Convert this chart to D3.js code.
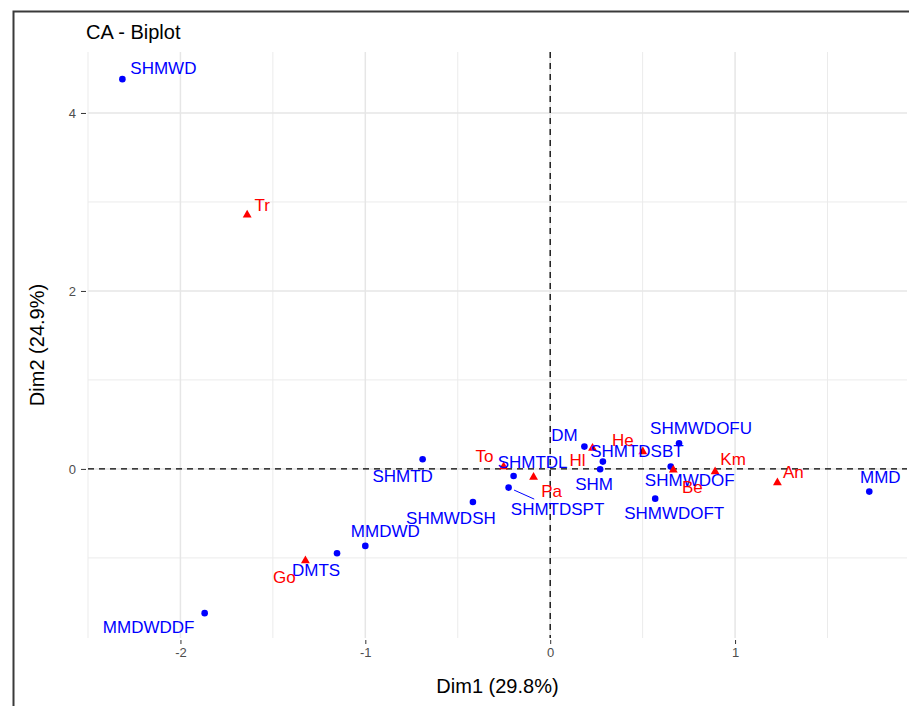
<!DOCTYPE html>
<html>
<head>
<meta charset="utf-8">
<script src="https://cdn.jsdelivr.net/npm/d3@7"></script>
<style>
  html, body { margin: 0; padding: 0; background: #fff; }
  svg { display: block; font-family: "Liberation Sans", Arial, sans-serif; }
</style>
</head>
<body>
<svg id="chart" width="909" height="706"></svg>
<script>
// Column profiles (blue points)
const colNames = ["SHMWD", "SHMTD", "SHMTDL", "SHMTDSPT", "SHMWDSH", "DM", "SHMTDSBT", "SHM",
                  "SHMWDOFU", "SHMWDOF", "SHMWDOFT", "MMD", "MMDWD", "DMTS", "MMDWDDF"];
const colDim1 = [-2.314, -0.690, -0.198, -0.225, -0.418, 0.185, 0.285, 0.270,
                 0.697, 0.652, 0.568, 1.726, -1.000, -1.153, -1.869];
const colDim2 = [4.380, 0.109, -0.079, -0.210, -0.371, 0.251, 0.082, -0.003,
                 0.289, 0.026, -0.334, -0.255, -0.865, -0.947, -1.621];

// Row profiles (red triangles)
const rowNames = ["Tr", "To", "Pa", "Hl", "He", "Be", "Km", "An", "Go"];
const rowDim1 = [-1.639, -0.252, -0.090, 0.229, 0.501, 0.666, 0.892, 1.229, -1.324];
const rowDim2 = [2.854, 0.026, -0.093, 0.233, 0.194, -0.011, -0.030, -0.154, -1.030];

// Axis ticks and titles
const xTicks = [-2, -1, 0, 1];
const yTicks = [0, 2, 4];
const xMinor = [-2.5, -1.5, -0.5, 0.5, 1.5];
const yMinor = [-1, 1, 3];
const chartTitle = "CA - Biplot";
const xTitle = "Dim1 (29.8%)";
const yTitle = "Dim2 (24.9%)";

// Repelled label placement (pixel offsets of the label centre from its point)
const labelOffset = {
  SHMWD: [41, -11], SHMTD: [-20, 17], SHMTDL: [19, -13], SHMTDSPT: [49, 22],
  SHMWDSH: [-22, 17], DM: [-20, -11], SHMTDSBT: [34, -10], SHM: [-6, 15],
  SHMWDOFU: [22, -15], SHMWDOF: [19, 14], SHMWDOFT: [19, 15], MMD: [11, -14],
  MMDWD: [20, -14], DMTS: [-21, 17], MMDWDDF: [-56, 14],
  Tr: [15, -9], To: [-19, -10], Pa: [18, 14], Hl: [-15, 12], He: [-20, -11],
  Be: [19, 18], Km: [18, -12], An: [16, -10], Go: [-21, 17]
};
const withSegment = new Set(["SHMTDSPT"]);

const svg = d3.select("#chart");
const panel = { left: 88, right: 907, top: 52, bottom: 638 };

const x = d3.scaleLinear().domain([-2.5, 1.93]).range([panel.left, panel.right]);
const y = d3.scaleLinear().domain([-1.9, 4.685]).range([panel.bottom, panel.top]);

// Outer frame
svg.append("path")
  .attr("d", `M13.5,706 V11.5 H909`)
  .attr("fill", "none").attr("stroke", "#3a3a3a").attr("stroke-width", 2);

// Title
svg.append("text").attr("x", 86).attr("y", 39)
  .attr("font-size", 20).attr("fill", "#000").text(chartTitle);

const grid = svg.append("g");
// Minor grid
grid.selectAll(".vminor").data(xMinor).join("line")
  .attr("x1", d => x(d)).attr("x2", d => x(d))
  .attr("y1", panel.top).attr("y2", panel.bottom)
  .attr("stroke", "#ebebeb").attr("stroke-width", 1);
grid.selectAll(".hminor").data(yMinor).join("line")
  .attr("y1", d => y(d)).attr("y2", d => y(d))
  .attr("x1", panel.left).attr("x2", panel.right)
  .attr("stroke", "#ebebeb").attr("stroke-width", 1);
// Major grid
grid.selectAll(".vmajor").data(xTicks).join("line")
  .attr("x1", d => x(d)).attr("x2", d => x(d))
  .attr("y1", panel.top).attr("y2", panel.bottom)
  .attr("stroke", "#e6e6e6").attr("stroke-width", 1.5);
grid.selectAll(".hmajor").data(yTicks).join("line")
  .attr("y1", d => y(d)).attr("y2", d => y(d))
  .attr("x1", panel.left).attr("x2", panel.right)
  .attr("stroke", "#e6e6e6").attr("stroke-width", 1.5);

// Axes (ticks and labels only), plain hyphen for negatives
const fmt = d => String(d);
const xAxis = svg.append("g")
  .attr("transform", `translate(0,${panel.bottom + 2})`)
  .call(d3.axisBottom(x).tickValues(xTicks).tickSize(4).tickPadding(4).tickFormat(fmt));
const yAxis = svg.append("g")
  .attr("transform", `translate(${panel.left - 2},0)`)
  .call(d3.axisLeft(y).tickValues(yTicks).tickSize(5).tickPadding(5).tickFormat(fmt));
[xAxis, yAxis].forEach(a => {
  a.select(".domain").remove();
  a.selectAll(".tick line").attr("stroke", "#333").attr("stroke-width", 1);
  a.selectAll(".tick text").attr("fill", "#4d4d4d").attr("font-size", 13)
    .attr("font-family", "Liberation Sans, Arial, sans-serif");
});

// Reference lines at the origin
svg.append("line")
  .attr("x1", x(0)).attr("x2", x(0)).attr("y1", panel.top).attr("y2", panel.bottom)
  .attr("stroke", "#000").attr("stroke-width", 1.3).attr("stroke-dasharray", "6,5");
svg.append("line")
  .attr("x1", panel.left).attr("x2", panel.right).attr("y1", y(0)).attr("y2", y(0))
  .attr("stroke", "#000").attr("stroke-width", 1.3).attr("stroke-dasharray", "6,5");

// Axis titles
svg.append("text").attr("x", (panel.left + panel.right) / 2).attr("y", 693)
  .attr("text-anchor", "middle").attr("font-size", 20).attr("fill", "#000").text(xTitle);
svg.append("text")
  .attr("transform", `translate(44,${(panel.top + panel.bottom) / 2}) rotate(-90)`)
  .attr("text-anchor", "middle").attr("font-size", 20).attr("fill", "#000").text(yTitle);

const cols = colNames.map((n, i) => ({ name: n, d1: colDim1[i], d2: colDim2[i], color: "#0000ff" }));
const rows = rowNames.map((n, i) => ({ name: n, d1: rowDim1[i], d2: rowDim2[i], color: "#ff0000" }));

const fontSize = 17;

// Leader segments for labels pushed far from their points
const all = cols.concat(rows).filter(d => withSegment.has(d.name));
all.forEach(d => {
  const px = x(d.d1), py = y(d.d2);
  const [ox, oy] = labelOffset[d.name];
  const lx = px + ox, ly = py + oy;
  const halfW = d.name.length * fontSize * 0.34 + 2, halfH = fontSize * 0.5 + 2;
  const dx = px - lx, dy = py - ly;
  const t = Math.min(halfW / Math.abs(dx || 1e-9), halfH / Math.abs(dy || 1e-9));
  const ex = lx + dx * t, ey = ly + dy * t;
  const len = Math.hypot(ex - px, ey - py);
  const sx = px + (ex - px) * (6 / len), sy = py + (ey - py) * (6 / len);
  svg.append("line").attr("x1", sx).attr("y1", sy).attr("x2", ex).attr("y2", ey)
    .attr("stroke", d.color).attr("stroke-width", 1);
});

// Column points
svg.append("g").selectAll("circle").data(cols).join("circle")
  .attr("cx", d => x(d.d1)).attr("cy", d => y(d.d2)).attr("r", 3.3)
  .attr("fill", d => d.color);

// Row triangles
const tri = d3.symbol().type(d3.symbolTriangle).size(34);
svg.append("g").selectAll("path").data(rows).join("path")
  .attr("d", tri)
  .attr("transform", d => `translate(${x(d.d1)},${y(d.d2)})`)
  .attr("fill", d => d.color);

// Labels
svg.append("g").selectAll("text").data(cols.concat(rows)).join("text")
  .attr("x", d => x(d.d1) + labelOffset[d.name][0])
  .attr("y", d => y(d.d2) + labelOffset[d.name][1])
  .attr("text-anchor", "middle").attr("dominant-baseline", "central")
  .attr("font-size", fontSize).attr("fill", d => d.color)
  .text(d => d.name);
</script>
</body>
</html>
